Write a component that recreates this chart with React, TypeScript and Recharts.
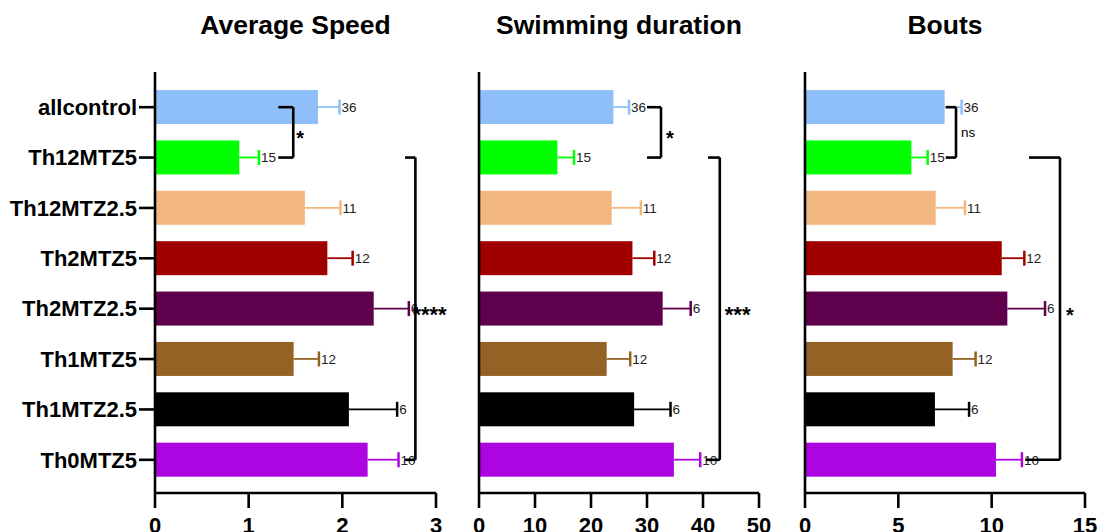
import React from 'react';
import { BarChart, Bar, XAxis, YAxis, ReferenceLine } from 'recharts';

const categories = ['allcontrol', 'Th12MTZ5', 'Th12MTZ2.5', 'Th2MTZ5', 'Th2MTZ2.5', 'Th1MTZ5', 'Th1MTZ2.5', 'Th0MTZ5'];
const barColors = ['#8fbff8', '#00ff00', '#f2b77e', '#a00000', '#5f004c', '#946224', '#000000', '#ad05e2'];
const sampleSizes = [36, 15, 11, 12, 6, 12, 6, 10];

const speedMean = [1.74, 0.9, 1.6, 1.84, 2.335, 1.48, 2.07, 2.27];
const speedSem = [0.23, 0.21, 0.38, 0.27, 0.375, 0.27, 0.515, 0.33];
const durationMean = [24.0, 14.0, 23.7, 27.4, 32.8, 22.8, 27.7, 34.8];
const durationSem = [2.8, 2.96, 5.2, 3.9, 5.0, 4.2, 6.5, 4.7];
const boutsMean = [7.48, 5.7, 7.0, 10.54, 10.84, 7.91, 6.96, 10.23];
const boutsSem = [0.91, 0.87, 1.57, 1.21, 2.02, 1.23, 1.83, 1.39];

const speedTicks = [0, 1, 2, 3];
const durationTicks = [0, 10, 20, 30, 40, 50];
const boutsTicks = [0, 5, 10, 15];

const FONT = 'Arial, "Liberation Sans", sans-serif';
const H = 532;

const makeData = (mean: number[], sem: number[]) =>
  categories.map((name, i) => ({ name, mean: mean[i], sem: sem[i], n: sampleSizes[i], color: barColors[i] }));

// bar + one-sided error bar + n label, error length taken from the bar's own scale
const BarWithError = (props: any) => {
  const { x, y, width, height, payload } = props;
  const errPx = payload.mean ? (width * payload.sem) / payload.mean : 0;
  const cy = y + height / 2;
  const x0 = x + width;
  const x1 = x0 + errPx;
  return (
    <g>
      <rect x={x} y={y} width={width} height={height} fill={payload.color} />
      <line x1={x0} y1={cy} x2={x1} y2={cy} stroke={payload.color} strokeWidth={1.8} />
      <line x1={x1} y1={cy - 7.5} x2={x1} y2={cy + 7.5} stroke={payload.color} strokeWidth={2.5} />
      <text x={x1 + 2} y={cy} dy="0.36em" fontSize={13.5} fill="#222" fontFamily={FONT}>
        {payload.n}
      </text>
    </g>
  );
};

interface Bracket {
  from: string;
  to: string;
  xLine: number;
  xTop: number;
  xBottom: number;
  text: string;
  textSize: number;
  bold: boolean;
  offset: number;
  dy: number;
}

interface PanelProps {
  title: string;
  data: any[];
  domain: [number, number];
  ticks: number[];
  left: number;
  width: number;
  axisWidth: number;
  rightMargin: number;
  showLabels: boolean;
  brackets: Bracket[];
}

const Panel: React.FC<PanelProps> = ({ title, data, domain, ticks, left, width, axisWidth, rightMargin, showLabels, brackets }) => {
  const plotLeft = left + axisWidth;
  const plotWidth = width - axisWidth - rightMargin;
  return (
    <>
      <div
        style={{
          position: 'absolute',
          left: plotLeft - 60,
          width: plotWidth + 120,
          top: 10,
          textAlign: 'center',
          fontFamily: FONT,
          fontWeight: 700,
          fontSize: 26.5,
          lineHeight: '30px',
        }}
      >
        {title}
      </div>
      <div style={{ position: 'absolute', left, top: 0 }}>
        <BarChart
          width={width}
          height={H}
          data={data}
          layout="vertical"
          margin={{ top: 72, right: rightMargin, bottom: 0, left: 0 }}
          barCategoryGap="16%"
        >
          <XAxis
            type="number"
            domain={domain}
            ticks={ticks}
            interval={0}
            allowDataOverflow
            height={39}
            axisLine={{ stroke: '#000', strokeWidth: 2.6 }}
            tickLine={{ stroke: '#000', strokeWidth: 2.6 }}
            tickSize={15}
            tickMargin={9}
            tick={{ fontSize: 22, fontWeight: 700, fill: '#000', fontFamily: FONT }}
          />
          <YAxis
            type="category"
            dataKey="name"
            width={axisWidth}
            padding={{ top: 10, bottom: 8 }}
            axisLine={{ stroke: '#000', strokeWidth: 2.6 }}
            tickLine={showLabels ? { stroke: '#000', strokeWidth: 2.6 } : false}
            tickSize={16}
            tickMargin={2}
            tick={showLabels ? { fontSize: 22, fontWeight: 700, fill: '#000', fontFamily: FONT } : false}
            interval={0}
          />
          <Bar dataKey="mean" shape={BarWithError} isAnimationActive={false} />
          {brackets.map((b, i) => [
            <ReferenceLine
              key={`t${i}`}
              segment={[{ x: b.xTop, y: b.from }, { x: b.xLine, y: b.from }]}
              stroke="#000"
              strokeWidth={2.6}
              ifOverflow="visible"
            />,
            <ReferenceLine
              key={`b${i}`}
              segment={[{ x: b.xBottom, y: b.to }, { x: b.xLine, y: b.to }]}
              stroke="#000"
              strokeWidth={2.6}
              ifOverflow="visible"
            />,
            <ReferenceLine
              key={`v${i}`}
              segment={[{ x: b.xLine, y: b.from }, { x: b.xLine, y: b.to }]}
              stroke="#000"
              strokeWidth={2.6}
              ifOverflow="visible"
              label={{
                value: b.text,
                position: 'right',
                offset: b.offset,
                dy: b.dy,
                fontSize: b.textSize,
                fontWeight: b.bold ? 700 : 400,
                fill: '#000',
                fontFamily: FONT,
              }}
            />,
          ])}
        </BarChart>
      </div>
    </>
  );
};

const App: React.FC = () => {
  return (
    <div style={{ position: 'absolute', left: 0, top: 0, width: 1097, height: H, background: '#fff', overflow: 'hidden' }}>
      <Panel
        title="Average Speed"
        data={makeData(speedMean, speedSem)}
        domain={[0, 3]}
        ticks={speedTicks}
        left={0}
        width={460}
        axisWidth={155}
        rightMargin={24}
        showLabels
        brackets={[
          { from: 'allcontrol', to: 'Th12MTZ5', xLine: 1.476, xTop: 1.316, xBottom: 1.316, text: '*', textSize: 20, bold: true, offset: 3, dy: 6 },
          { from: 'Th12MTZ5', to: 'Th0MTZ5', xLine: 2.78, xTop: 2.67, xBottom: 2.67, text: '****', textSize: 22, bold: true, offset: -3, dy: 6 },
        ]}
      />
      <Panel
        title="Swimming duration"
        data={makeData(durationMean, durationSem)}
        domain={[0, 50]}
        ticks={durationTicks}
        left={460}
        width={320}
        axisWidth={19}
        rightMargin={21}
        showLabels={false}
        brackets={[
          { from: 'allcontrol', to: 'Th12MTZ5', xLine: 32.5, xTop: 30.0, xBottom: 30.0, text: '*', textSize: 20, bold: true, offset: 5, dy: 6 },
          { from: 'Th12MTZ5', to: 'Th0MTZ5', xLine: 43.0, xTop: 40.9, xBottom: 40.5, text: '***', textSize: 22, bold: true, offset: 5, dy: 6 },
        ]}
      />
      <Panel
        title="Bouts"
        data={makeData(boutsMean, boutsSem)}
        domain={[0, 15]}
        ticks={boutsTicks}
        left={780}
        width={317}
        axisWidth={25}
        rightMargin={12}
        showLabels={false}
        brackets={[
          { from: 'allcontrol', to: 'Th12MTZ5', xLine: 8.09, xTop: 7.54, xBottom: 7.54, text: 'ns', textSize: 13.5, bold: false, offset: 5, dy: 0 },
          { from: 'Th12MTZ5', to: 'Th0MTZ5', xLine: 13.66, xTop: 12.0, xBottom: 11.8, text: '*', textSize: 20, bold: true, offset: 6, dy: 6 },
        ]}
      />
    </div>
  );
};

export default App;
